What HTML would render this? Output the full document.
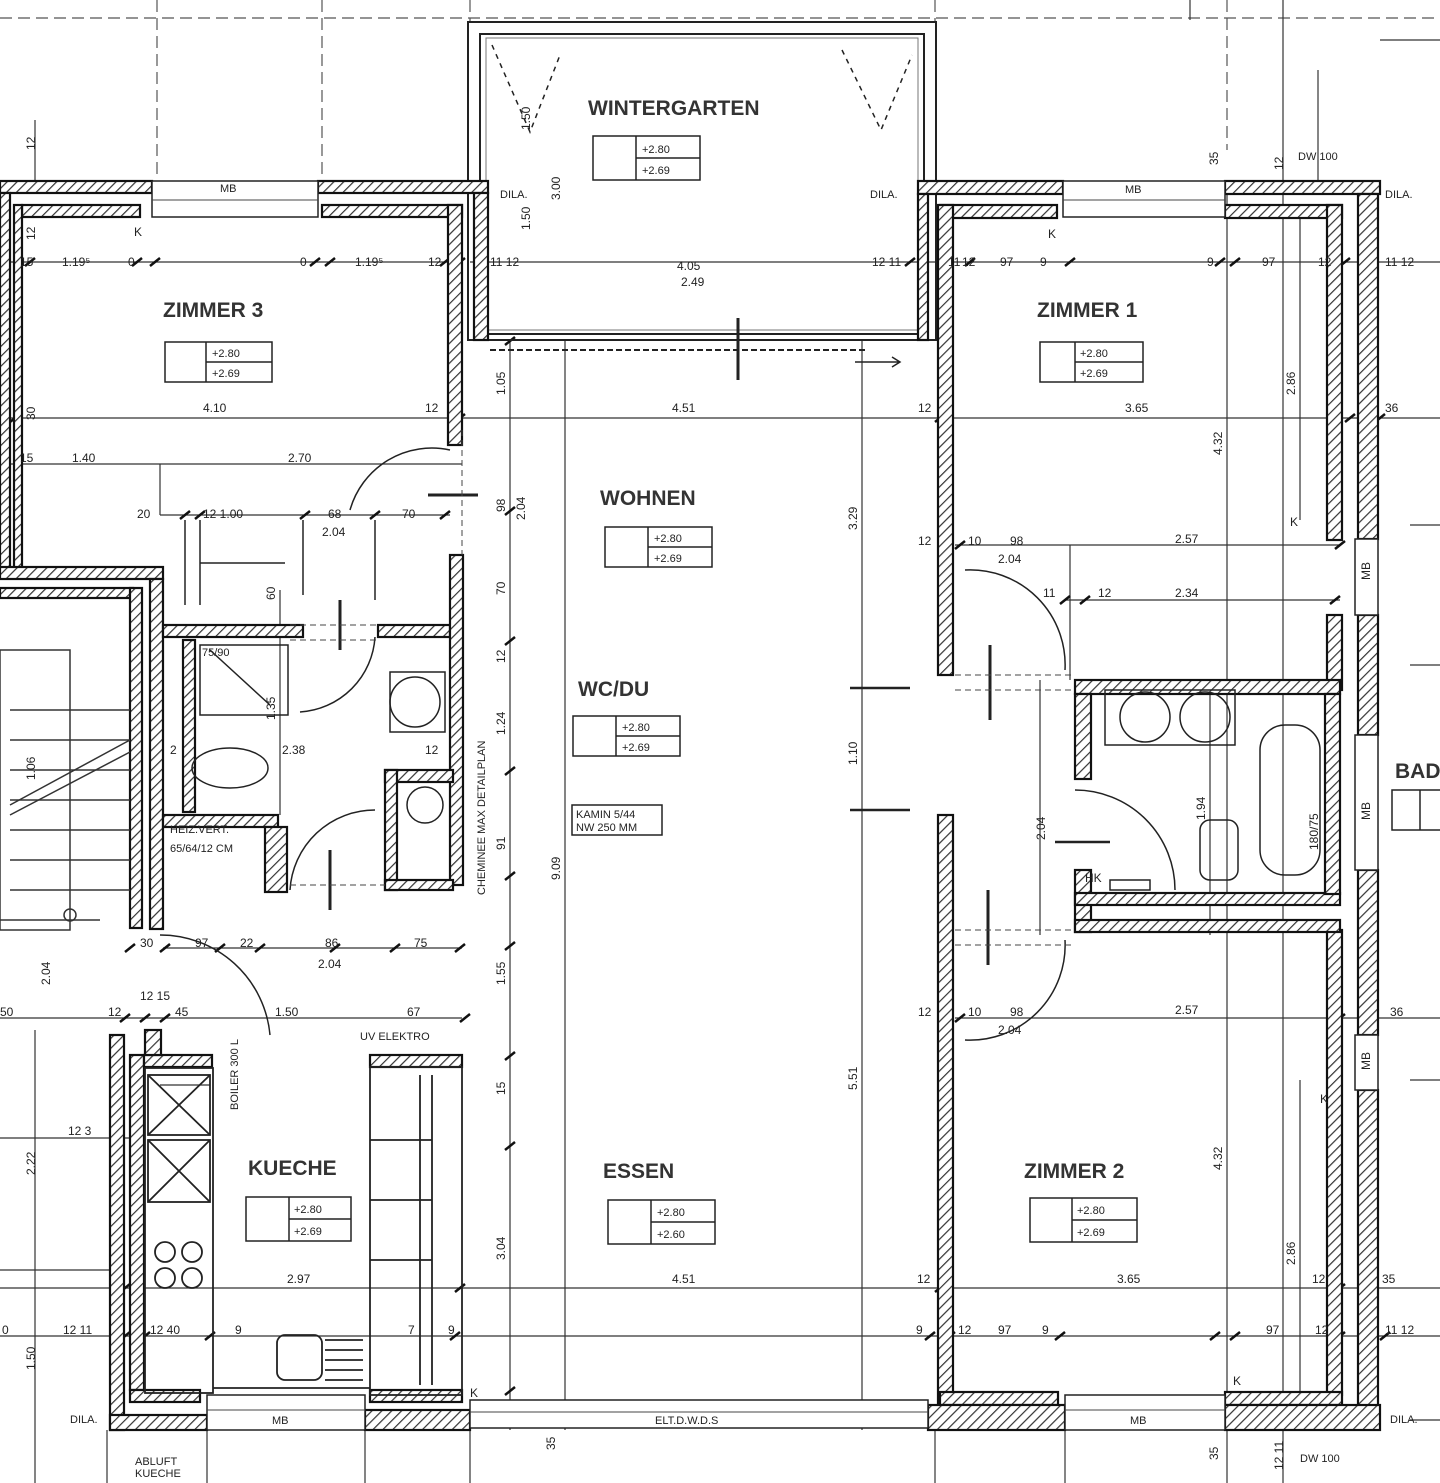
<!DOCTYPE html>
<html><head><meta charset="utf-8"><style>
html,body{margin:0;padding:0;background:#fff;}
svg{display:block}
text{font-family:"Liberation Sans",sans-serif;fill:#222}
.r{font-size:21px;font-weight:bold;fill:#333}
.d{font-size:12px}
.s{font-size:11px}
</style></head><body>
<svg width="1440" height="1483" viewBox="0 0 1440 1483" xmlns="http://www.w3.org/2000/svg">
<defs>
<pattern id="h" width="7" height="7" patternUnits="userSpaceOnUse" patternTransform="rotate(45)">
<rect width="7" height="7" fill="#fff"/><line x1="0" y1="0" x2="0" y2="7" stroke="#333" stroke-width="2.4"/>
</pattern>
</defs>
<rect width="1440" height="1483" fill="#fff"/>

<g stroke="#555" stroke-width="1.2" stroke-dasharray="12,6" fill="none">
<line x1="0" y1="18" x2="1440" y2="18"/>
<line x1="157" y1="0" x2="157" y2="180"/>
<line x1="322" y1="0" x2="322" y2="180"/>
<line x1="470" y1="0" x2="470" y2="22"/>
<line x1="935" y1="0" x2="935" y2="22"/>
<line x1="1227" y1="0" x2="1227" y2="150"/>
</g>
<g stroke="#333" stroke-width="1.2" fill="none">
<line x1="1283" y1="0" x2="1283" y2="1483"/>
<line x1="1227" y1="180" x2="1227" y2="1483"/>
<line x1="1065" y1="1430" x2="1065" y2="1483"/>
<line x1="935" y1="1430" x2="935" y2="1483"/>
<line x1="470" y1="1430" x2="470" y2="1483"/>
<line x1="365" y1="1430" x2="365" y2="1483"/>
<line x1="207" y1="1430" x2="207" y2="1483"/>
<line x1="107" y1="1430" x2="107" y2="1483"/>
<line x1="35" y1="1030" x2="35" y2="1483"/>
<line x1="35" y1="120" x2="35" y2="180"/>
<line x1="510" y1="340" x2="510" y2="1430"/>
<line x1="565" y1="340" x2="565" y2="1430"/>
<line x1="862" y1="340" x2="862" y2="1430"/>
<line x1="1318" y1="70" x2="1318" y2="180"/>
<line x1="1190" y1="0" x2="1190" y2="20"/>
<line x1="0" y1="262" x2="462" y2="262"/>
<line x1="470" y1="262" x2="935" y2="262"/>
<line x1="940" y1="262" x2="1440" y2="262"/>
<line x1="0" y1="418" x2="1440" y2="418"/>
<line x1="0" y1="464" x2="462" y2="464"/>
<line x1="160" y1="515" x2="450" y2="515"/>
<line x1="955" y1="545" x2="1340" y2="545"/>
<line x1="1065" y1="600" x2="1340" y2="600"/>
<line x1="163" y1="948" x2="462" y2="948"/>
<line x1="0" y1="1018" x2="462" y2="1018"/>
<line x1="955" y1="1018" x2="1440" y2="1018"/>
<line x1="0" y1="1138" x2="130" y2="1138"/>
<line x1="0" y1="1288" x2="1440" y2="1288"/>
<line x1="0" y1="1336" x2="1440" y2="1336"/>
<line x1="160" y1="1085" x2="210" y2="1085"/>
<line x1="1410" y1="1080" x2="1440" y2="1080"/>
<line x1="1410" y1="665" x2="1440" y2="665"/>
<line x1="1410" y1="525" x2="1440" y2="525"/>
<line x1="1410" y1="1420" x2="1440" y2="1420"/>
<line x1="1380" y1="40" x2="1440" y2="40"/>
<line x1="0" y1="1270" x2="110" y2="1270"/>
<line x1="1300" y1="215" x2="1300" y2="520"/>
<line x1="1300" y1="1080" x2="1300" y2="1395"/>
<line x1="1210" y1="680" x2="1210" y2="935"/>
<line x1="1040" y1="680" x2="1040" y2="935"/>
<line x1="280" y1="590" x2="280" y2="815"/>
<line x1="1070" y1="545" x2="1070" y2="680"/>
<line x1="160" y1="464" x2="160" y2="515"/>
</g>
<g stroke="#111" stroke-width="2.5">
<path d="M505 345l10-8M505 515l10-8M505 645l10-8M505 775l10-8M505 880l10-8M505 950l10-8M505 1060l10-8M505 1150l10-8M505 1395l10-8"/>
<path d="M0 266l10-8M25 266l10-8M132 266l10-8M150 266l10-8M310 266l10-8M325 266l10-8M440 266l10-8M455 266l10-8M475 266l10-8M905 266l10-8M940 266l10-8M965 266l10-8M1065 266l10-8M1215 266l10-8M1230 266l10-8M1340 266l10-8M1360 266l10-8"/>
<path d="M10 422l10-8M455 422l10-8M935 422l10-8M1345 422l10-8M1375 422l10-8"/>
<path d="M935 1292l10-8M1335 1292l10-8M1365 1292l10-8M120 1292l10-8M455 1292l10-8"/>
<path d="M925 1340l10-8M945 1340l10-8M1055 1340l10-8M1210 1340l10-8M1230 1340l10-8M1335 1340l10-8M1360 1340l10-8M1380 1340l10-8M120 1340l10-8M140 1340l10-8M205 1340l10-8M450 1340l10-8"/>
<path d="M955 549l10-8M1335 549l10-8M1060 604l10-8M1080 604l10-8M1330 604l10-8"/>
<path d="M180 519l10-8M195 519l10-8M300 519l10-8M370 519l10-8M440 519l10-8"/>
<path d="M125 952l10-8M160 952l10-8M215 952l10-8M255 952l10-8M330 952l10-8M390 952l10-8M455 952l10-8"/>
<path d="M955 1022l10-8M1335 1022l10-8M120 1022l10-8M140 1022l10-8M160 1022l10-8M460 1022l10-8"/>
</g>

<g fill="none" stroke="#222">
<rect x="468" y="22" width="468" height="318" stroke-width="2"/>
<rect x="480" y="34" width="444" height="300" stroke-width="2"/>
<rect x="486" y="38" width="432" height="292" stroke-width="1" stroke="#777"/>
<path d="M492 45L530 132L560 55M842 50L881 130L912 55" stroke-dasharray="5,5" stroke-width="1.5"/>
<line x1="490" y1="350" x2="865" y2="350" stroke-dasharray="6,3" stroke-width="2"/>
<line x1="738" y1="318" x2="738" y2="380" stroke-width="3"/>
<path d="M855 362h45m-8-5l8 5-8 5" stroke-width="1.5"/>
</g>
<text class="r" x="588" y="115">WINTERGARTEN</text>
<text class="s" x="500" y="198">DILA.</text>
<text class="s" x="870" y="198">DILA.</text>
<text class="d" x="677" y="270">4.05</text>
<text class="d" x="681" y="286">2.49</text>
<text class="d" x="490" y="266">11 12</text>
<text class="d" x="872" y="266">12 11</text>

<g fill="url(#h)" stroke="#111" stroke-width="2.2">
<rect x="0" y="181" width="152" height="12"/>
<rect x="318" y="181" width="170" height="12"/>
<rect x="22" y="205" width="118" height="12"/>
<rect x="322" y="205" width="140" height="12"/>
<rect x="0" y="193" width="10" height="380"/>
<rect x="14" y="205" width="8" height="365"/>
<rect x="448" y="205" width="14" height="240"/>
<rect x="474" y="193" width="14" height="147"/>
<rect x="0" y="567" width="163" height="12"/>
<rect x="0" y="588" width="133" height="10"/>
<rect x="130" y="588" width="12" height="340"/>
<rect x="150" y="579" width="13" height="350"/>
<rect x="163" y="625" width="140" height="12"/>
<rect x="378" y="625" width="72" height="12"/>
<rect x="450" y="555" width="13" height="330"/>
<rect x="183" y="640" width="12" height="172"/>
<rect x="163" y="815" width="115" height="12"/>
<rect x="265" y="827" width="22" height="65"/>
<rect x="385" y="770" width="68" height="12"/>
<rect x="385" y="770" width="12" height="120"/>
<rect x="385" y="880" width="68" height="10"/>
<rect x="110" y="1035" width="14" height="395"/>
<rect x="130" y="1055" width="14" height="335"/>
<rect x="144" y="1055" width="68" height="12"/>
<rect x="145" y="1030" width="16" height="25"/>
<rect x="110" y="1415" width="97" height="15"/>
<rect x="130" y="1390" width="70" height="12"/>
<rect x="370" y="1390" width="92" height="12"/>
<rect x="365" y="1410" width="105" height="20"/>
<rect x="370" y="1055" width="92" height="12"/>
<rect x="918" y="181" width="145" height="13"/>
<rect x="1225" y="181" width="155" height="13"/>
<rect x="940" y="205" width="117" height="13"/>
<rect x="1225" y="205" width="117" height="13"/>
<rect x="918" y="194" width="10" height="146"/>
<rect x="938" y="205" width="15" height="470"/>
<rect x="938" y="815" width="15" height="590"/>
<rect x="1327" y="205" width="15" height="335"/>
<rect x="1358" y="194" width="20" height="345"/>
<rect x="1358" y="615" width="20" height="120"/>
<rect x="1358" y="870" width="20" height="165"/>
<rect x="1358" y="1090" width="20" height="325"/>
<rect x="1327" y="615" width="15" height="75"/>
<rect x="1327" y="930" width="15" height="465"/>
<rect x="1075" y="680" width="265" height="14"/>
<rect x="1075" y="694" width="16" height="85"/>
<rect x="1075" y="870" width="16" height="62"/>
<rect x="1075" y="893" width="265" height="12"/>
<rect x="1075" y="920" width="265" height="12"/>
<rect x="1325" y="694" width="15" height="200"/>
<rect x="940" y="1392" width="118" height="13"/>
<rect x="928" y="1405" width="137" height="25"/>
<rect x="1225" y="1392" width="117" height="13"/>
<rect x="1225" y="1405" width="155" height="25"/>
</g>
<g fill="#fff" stroke="#222" stroke-width="1.5">
<rect x="152" y="181" width="166" height="36"/>
<rect x="1063" y="181" width="162" height="36"/>
<rect x="207" y="1395" width="158" height="35"/>
<rect x="1065" y="1395" width="160" height="35"/>
<rect x="470" y="1400" width="458" height="28"/>
<rect x="1355" y="539" width="23" height="76"/>
<rect x="1355" y="735" width="23" height="135"/>
<rect x="1355" y="1035" width="23" height="55"/>
</g>
<g stroke="#444" stroke-width="1">
<line x1="152" y1="200" x2="318" y2="200"/><line x1="1063" y1="200" x2="1225" y2="200"/>
<line x1="207" y1="1410" x2="365" y2="1410"/><line x1="1065" y1="1410" x2="1225" y2="1410"/>
<line x1="470" y1="1412" x2="928" y2="1412"/>
</g>
<text class="s" x="220" y="192">MB</text><text class="s" x="1125" y="193">MB</text>
<text class="s" x="272" y="1424">MB</text><text class="s" x="1130" y="1424">MB</text>
<text class="s" x="655" y="1424">ELT.D.W.D.S</text>
<text class="s" x="70" y="1423">DILA.</text><text class="s" x="1390" y="1423">DILA.</text>
<text class="s" x="1385" y="198">DILA.</text>
<text class="s" x="1298" y="160">DW 100</text><text class="s" x="1300" y="1462">DW 100</text>
<text class="s" x="135" y="1465">ABLUFT</text><text class="s" x="135" y="1477">KUECHE</text>

<g stroke="#333" stroke-width="1.5" fill="none">
<rect x="0" y="650" width="70" height="280"/>
<line x1="10" y1="710" x2="130" y2="710"/>
<line x1="10" y1="740" x2="130" y2="740"/>
<line x1="10" y1="770" x2="130" y2="770"/>
<line x1="10" y1="800" x2="130" y2="800"/>
<line x1="10" y1="830" x2="130" y2="830"/>
<line x1="10" y1="860" x2="130" y2="860"/>
<line x1="10" y1="890" x2="130" y2="890"/>
<line x1="10" y1="805" x2="130" y2="740"/>
<line x1="10" y1="815" x2="130" y2="752"/>
<line x1="0" y1="920" x2="100" y2="920"/>
<circle cx="70" cy="915" r="6"/>
</g>
<g stroke="#222" stroke-width="1.5" fill="none">
<rect x="200" y="645" width="88" height="70"/>
<line x1="210" y1="650" x2="270" y2="705"/>
<ellipse cx="230" cy="768" rx="38" ry="20"/>
<rect x="390" y="672" width="55" height="60"/>
<circle cx="415" cy="702" r="25"/>
<circle cx="425" cy="805" r="18"/>
<path d="M300 712a80 80 0 0 0 75-75" />
<path d="M290 890a85 85 0 0 1 85-80"/>
<path d="M350 510a85 85 0 0 1 100-60"/>
<path d="M160 935a110 110 0 0 1 110 100"/>
<line x1="340" y1="600" x2="340" y2="650" stroke-width="3"/>
<line x1="330" y1="850" x2="330" y2="910" stroke-width="3"/>
<line x1="428" y1="495" x2="478" y2="495" stroke-width="3"/>
<line x1="185" y1="520" x2="185" y2="605"/><line x1="200" y1="520" x2="200" y2="605"/>
<line x1="200" y1="563" x2="285" y2="563"/>
<line x1="375" y1="520" x2="375" y2="600"/>
<line x1="303" y1="520" x2="303" y2="595"/>
</g>
<text class="s" x="170" y="833">HEIZ.VERT.</text>
<text class="s" x="170" y="852">65/64/12 CM</text>
<text class="s" x="202" y="656">75/90</text>
<g stroke="#222" stroke-width="1.8" fill="none">
<rect x="145" y="1068" width="68" height="325"/>
<rect x="148" y="1075" width="62" height="60"/><path d="M148 1075l62 60M210 1075l-62 60"/>
<rect x="148" y="1140" width="62" height="62"/><path d="M148 1140l62 62M210 1140l-62 62"/>
<circle cx="165" cy="1252" r="10"/><circle cx="192" cy="1252" r="10"/><circle cx="165" cy="1278" r="10"/><circle cx="192" cy="1278" r="10"/>
<rect x="370" y="1067" width="92" height="328"/>
<line x1="420" y1="1075" x2="420" y2="1385"/><line x1="432" y1="1075" x2="432" y2="1385"/>
<line x1="370" y1="1140" x2="432" y2="1140"/><line x1="370" y1="1200" x2="432" y2="1200"/><line x1="370" y1="1260" x2="432" y2="1260"/>
<line x1="213" y1="1388" x2="370" y2="1388"/>
<rect x="277" y="1335" width="45" height="45" rx="8"/>
<path d="M325 1340h38M325 1350h38M325 1360h38M325 1370h38M325 1380h38"/>
</g>
<text class="s" x="360" y="1040">UV ELEKTRO</text>
<g stroke="#222" stroke-width="1.5" fill="none">
<rect x="1105" y="690" width="130" height="55"/>
<circle cx="1145" cy="717" r="25"/><circle cx="1205" cy="717" r="25"/>
<rect x="1260" y="725" width="60" height="150" rx="25"/>
<rect x="1200" y="820" width="38" height="60" rx="10"/>
<path d="M1075 790a100 100 0 0 1 100 100"/>
<rect x="1110" y="880" width="40" height="10"/>
<path d="M965 570a95 95 0 0 1 100 100"/>
<path d="M965 1040a95 95 0 0 0 100-100"/>
<line x1="990" y1="645" x2="990" y2="720" stroke-width="3"/>
<line x1="988" y1="890" x2="988" y2="965" stroke-width="3"/>
<line x1="1055" y1="842" x2="1110" y2="842" stroke-width="2.5"/>
<line x1="850" y1="688" x2="910" y2="688" stroke-width="2.5"/>
<line x1="850" y1="810" x2="910" y2="810" stroke-width="2.5"/>
</g>
<g stroke="#444" stroke-width="1" stroke-dasharray="6,4">
<line x1="955" y1="675" x2="1075" y2="675"/><line x1="955" y1="690" x2="1075" y2="690"/>
<line x1="955" y1="930" x2="1075" y2="930"/><line x1="955" y1="945" x2="1075" y2="945"/>
<line x1="290" y1="625" x2="378" y2="625"/><line x1="290" y1="640" x2="378" y2="640"/>
<line x1="290" y1="885" x2="385" y2="885"/>
<line x1="462" y1="430" x2="462" y2="555"/>
</g>
<text class="r" x="1395" y="778">BAD</text>
<rect x="1392" y="790" width="60" height="40" fill="none" stroke="#222" stroke-width="1.5"/>
<line x1="1420" y1="790" x2="1420" y2="830" stroke="#222" stroke-width="1.5"/>

<text class="r" x="163" y="317">ZIMMER 3</text>
<text class="r" x="600" y="505">WOHNEN</text>
<text class="r" x="578" y="696">WC/DU</text>
<text class="r" x="603" y="1178">ESSEN</text>
<text class="r" x="248" y="1175">KUECHE</text>
<text class="r" x="1037" y="317">ZIMMER 1</text>
<text class="r" x="1024" y="1178">ZIMMER 2</text>
<g fill="#fff" stroke="#222" stroke-width="1.5">
<rect x="593" y="136" width="107" height="44"/><line x1="636" y1="136" x2="636" y2="180"/><line x1="636" y1="158" x2="700" y2="158"/>
<rect x="165" y="342" width="107" height="40"/><line x1="206" y1="342" x2="206" y2="382"/><line x1="206" y1="362" x2="272" y2="362"/>
<rect x="605" y="527" width="107" height="40"/><line x1="648" y1="527" x2="648" y2="567"/><line x1="648" y1="547" x2="712" y2="547"/>
<rect x="573" y="716" width="107" height="40"/><line x1="616" y1="716" x2="616" y2="756"/><line x1="616" y1="736" x2="680" y2="736"/>
<rect x="608" y="1200" width="107" height="44"/><line x1="651" y1="1200" x2="651" y2="1244"/><line x1="651" y1="1222" x2="715" y2="1222"/>
<rect x="246" y="1197" width="105" height="44"/><line x1="289" y1="1197" x2="289" y2="1241"/><line x1="289" y1="1219" x2="351" y2="1219"/>
<rect x="1040" y="342" width="103" height="40"/><line x1="1075" y1="342" x2="1075" y2="382"/><line x1="1075" y1="362" x2="1143" y2="362"/>
<rect x="1030" y="1198" width="107" height="44"/><line x1="1072" y1="1198" x2="1072" y2="1242"/><line x1="1072" y1="1220" x2="1137" y2="1220"/>
<rect x="572" y="805" width="90" height="30"/>
</g>
<g>
<text class="s" x="642" y="153">+2.80</text><text class="s" x="642" y="174">+2.69</text>
<text class="s" x="212" y="357">+2.80</text><text class="s" x="212" y="377">+2.69</text>
<text class="s" x="654" y="542">+2.80</text><text class="s" x="654" y="562">+2.69</text>
<text class="s" x="622" y="731">+2.80</text><text class="s" x="622" y="751">+2.69</text>
<text class="s" x="657" y="1216">+2.80</text><text class="s" x="657" y="1238">+2.60</text>
<text class="s" x="294" y="1213">+2.80</text><text class="s" x="294" y="1235">+2.69</text>
<text class="s" x="1080" y="357">+2.80</text><text class="s" x="1080" y="377">+2.69</text>
<text class="s" x="1077" y="1214">+2.80</text><text class="s" x="1077" y="1236">+2.69</text>
<text class="s" x="576" y="818">KAMIN 5/44</text><text class="s" x="576" y="831">NW 250 MM</text>
</g>
<g>
<text class="d" x="20" y="266">15</text><text class="d" x="62" y="266">1.19⁵</text><text class="d" x="128" y="266">0</text>
<text class="d" x="300" y="266">0</text><text class="d" x="355" y="266">1.19⁵</text><text class="d" x="428" y="266">12</text>
<text class="d" x="134" y="236">K</text><text class="d" x="1048" y="238">K</text>
<text class="d" x="203" y="412">4.10</text><text class="d" x="425" y="412">12</text>
<text class="d" x="672" y="412">4.51</text><text class="d" x="918" y="412">12</text>
<text class="d" x="1125" y="412">3.65</text><text class="d" x="1385" y="412">36</text>
<text class="d" x="20" y="462">15</text><text class="d" x="72" y="462">1.40</text><text class="d" x="288" y="462">2.70</text>
<text class="d" x="137" y="518">20</text><text class="d" x="203" y="518">12 1.00</text><text class="d" x="328" y="518">68</text><text class="d" x="402" y="518">70</text><text class="d" x="322" y="536">2.04</text>
<text class="d" x="948" y="266">11</text><text class="d" x="962" y="266">12</text><text class="d" x="1000" y="266">97</text><text class="d" x="1040" y="266">9</text>
<text class="d" x="1207" y="266">9</text><text class="d" x="1262" y="266">97</text><text class="d" x="1318" y="266">12</text><text class="d" x="1385" y="266">11 12</text>
<text class="d" x="918" y="545">12</text><text class="d" x="968" y="545">10</text><text class="d" x="1010" y="545">98</text><text class="d" x="1175" y="543">2.57</text><text class="d" x="998" y="563">2.04</text>
<text class="d" x="1043" y="597">11</text><text class="d" x="1098" y="597">12</text><text class="d" x="1175" y="597">2.34</text>
<text class="d" x="918" y="1016">12</text><text class="d" x="968" y="1016">10</text><text class="d" x="1010" y="1016">98</text><text class="d" x="1175" y="1014">2.57</text><text class="d" x="998" y="1034">2.04</text>
<text class="d" x="1390" y="1016">36</text>
<text class="d" x="917" y="1283">12</text><text class="d" x="1117" y="1283">3.65</text><text class="d" x="1312" y="1283">12</text><text class="d" x="1382" y="1283">35</text>
<text class="d" x="672" y="1283">4.51</text><text class="d" x="287" y="1283">2.97</text>
<text class="d" x="958" y="1334">12</text><text class="d" x="998" y="1334">97</text><text class="d" x="1042" y="1334">9</text>
<text class="d" x="916" y="1334">9</text><text class="d" x="1266" y="1334">97</text><text class="d" x="1315" y="1334">12</text><text class="d" x="1385" y="1334">11 12</text>
<text class="d" x="63" y="1334">12 11</text><text class="d" x="150" y="1334">12 40</text><text class="d" x="235" y="1334">9</text><text class="d" x="408" y="1334">7</text><text class="d" x="448" y="1334">9</text>
<text class="d" x="2" y="1334">0</text>
<text class="d" x="140" y="947">30</text><text class="d" x="195" y="947">97</text><text class="d" x="240" y="947">22</text><text class="d" x="325" y="947">86</text><text class="d" x="414" y="947">75</text><text class="d" x="318" y="968">2.04</text>
<text class="d" x="108" y="1016">12</text><text class="d" x="140" y="1000">12 15</text><text class="d" x="175" y="1016">45</text><text class="d" x="275" y="1016">1.50</text><text class="d" x="407" y="1016">67</text>
<text class="d" x="68" y="1135">12 3</text>
<text class="d" x="282" y="754">2.38</text><text class="d" x="425" y="754">12</text><text class="d" x="170" y="754">2</text>
<text class="d" x="0" y="1016">50</text>
<text class="d" x="1085" y="882">HK</text>
</g>
<g>
<text class="d" transform="translate(505,395) rotate(-90)">1.05</text>
<text class="d" transform="translate(525,520) rotate(-90)">2.04</text>
<text class="d" transform="translate(505,512) rotate(-90)">98</text>
<text class="d" transform="translate(505,595) rotate(-90)">70</text>
<text class="d" transform="translate(505,663) rotate(-90)">12</text>
<text class="d" transform="translate(505,735) rotate(-90)">1.24</text>
<text class="d" transform="translate(505,850) rotate(-90)">91</text>
<text class="d" transform="translate(505,985) rotate(-90)">1.55</text>
<text class="d" transform="translate(505,1095) rotate(-90)">15</text>
<text class="d" transform="translate(505,1260) rotate(-90)">3.04</text>
<text class="d" transform="translate(560,880) rotate(-90)">9.09</text>
<text class="d" transform="translate(857,530) rotate(-90)">3.29</text>
<text class="d" transform="translate(857,765) rotate(-90)">1.10</text>
<text class="d" transform="translate(857,1090) rotate(-90)">5.51</text>
<text class="d" transform="translate(1222,455) rotate(-90)">4.32</text>
<text class="d" transform="translate(1222,1170) rotate(-90)">4.32</text>
<text class="d" transform="translate(1295,395) rotate(-90)">2.86</text>
<text class="d" transform="translate(1295,1265) rotate(-90)">2.86</text>
<text class="d" transform="translate(1205,820) rotate(-90)">1.94</text>
<text class="d" transform="translate(1045,840) rotate(-90)">2.04</text>
<text class="d" transform="translate(530,130) rotate(-90)">1.50</text>
<text class="d" transform="translate(560,200) rotate(-90)">3.00</text>
<text class="d" transform="translate(530,230) rotate(-90)">1.50</text>
<text class="d" transform="translate(35,150) rotate(-90)">12</text>
<text class="d" transform="translate(35,240) rotate(-90)">12</text>
<text class="d" transform="translate(35,420) rotate(-90)">30</text>
<text class="d" transform="translate(35,780) rotate(-90)">1.06</text>
<text class="d" transform="translate(50,985) rotate(-90)">2.04</text>
<text class="d" transform="translate(35,1175) rotate(-90)">2.22</text>
<text class="d" transform="translate(35,1370) rotate(-90)">1.50</text>
<text class="s" transform="translate(238,1110) rotate(-90)">BOILER 300 L</text>
<text class="s" transform="translate(485,895) rotate(-90)">CHEMINEE MAX DETAILPLAN</text>
<text class="d" transform="translate(1318,850) rotate(-90)">180/75</text>
<text class="d" transform="translate(1370,580) rotate(-90)">MB</text>
<text class="d" transform="translate(1370,820) rotate(-90)">MB</text>
<text class="d" transform="translate(1370,1070) rotate(-90)">MB</text>
<text class="d" transform="translate(1218,165) rotate(-90)">35</text>
<text class="d" transform="translate(1283,170) rotate(-90)">12</text>
<text class="d" transform="translate(1283,1470) rotate(-90)">12 11</text>
<text class="d" transform="translate(1218,1460) rotate(-90)">35</text>
<text class="d" transform="translate(555,1450) rotate(-90)">35</text>
<text class="d" transform="translate(275,600) rotate(-90)">60</text>
<text class="d" transform="translate(275,720) rotate(-90)">1.35</text>
</g>
<text class="d" x="1290" y="526">K</text><text class="d" x="1320" y="1103">K</text>
<text class="d" x="470" y="1397">K</text><text class="d" x="1233" y="1385">K</text>
</svg>
</body></html>
